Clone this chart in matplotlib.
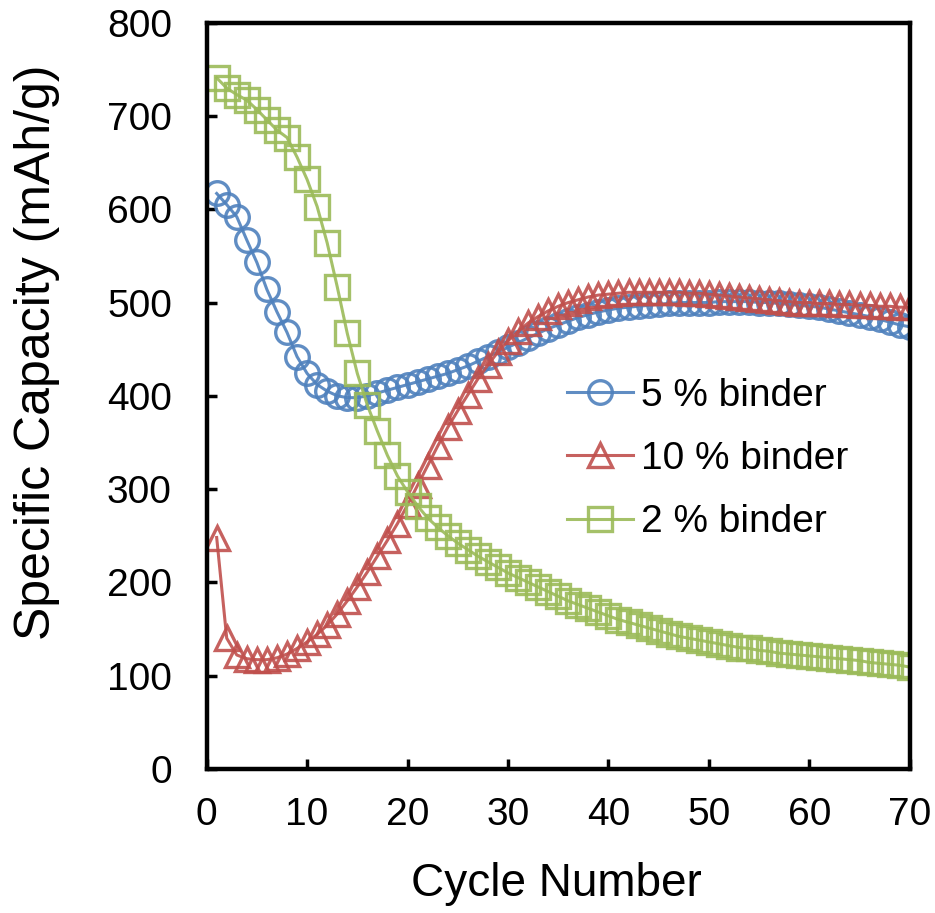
import matplotlib.pyplot as plt

plt.rcParams['font.family'] = ['Liberation Sans', 'DejaVu Sans']

# data
cycles = list(range(1, 71))
binder_5 = [617, 605, 592, 567, 543, 514, 490, 468, 442, 424,
            412, 405, 400, 398, 398, 400, 403, 406, 409, 412,
            415, 418, 421, 424, 428, 432, 437, 442, 447, 452,
            457, 462, 467, 472, 476, 480, 484, 487, 490, 492,
            494, 495, 496, 497, 498, 499, 500, 500, 500, 500,
            501, 501, 501, 501, 500, 500, 499, 498, 497, 496,
            495, 493, 491, 489, 487, 485, 482, 479, 476, 474]
binder_10 = [248, 140, 122, 118, 117, 117, 119, 123, 129, 136,
             144, 154, 166, 180, 195, 211, 228, 245, 263, 283,
             304, 325, 346, 366, 384, 401, 418, 433, 447, 459,
             469, 478, 485, 491, 496, 500, 503, 506, 508, 509,
             510, 511, 511, 511, 511, 511, 511, 510, 510, 509,
             508, 507, 506, 505, 504, 503, 502, 501, 500, 500,
             499, 499, 498, 498, 497, 497, 496, 496, 495, 495]
binder_2 = [741, 730, 723, 717, 707, 696, 685, 677, 656, 632,
            603, 564, 517, 467, 424, 390, 362, 336, 314, 297,
            282, 269, 259, 250, 242, 235, 228, 222, 216, 210,
            205, 200, 195, 190, 185, 180, 176, 172, 168, 164,
            160, 157, 154, 151, 148, 145, 142, 140, 138, 136,
            134, 132, 130, 129, 127, 126, 124, 123, 122, 121,
            120, 119, 118, 117, 116, 114, 113, 112, 111, 109]

x_ticks = [0, 10, 20, 30, 40, 50, 60, 70]
y_ticks = [0, 100, 200, 300, 400, 500, 600, 700, 800]

fig = plt.figure(figsize=(9.35, 9.13), dpi=100)
ax = fig.add_axes([0.221, 0.158, 0.752, 0.817])

style = dict(linewidth=2.2, markersize=17, markeredgewidth=2.4,
             markerfacecolor='none', alpha=0.9)
ax.plot(cycles, binder_5, color='#4F81BD', marker='o', label='5 % binder', **style)
ax.plot(cycles, binder_10, color='#C0504D', marker='^', label='10 % binder', **style)
ax.plot(cycles, binder_2, color='#9BBB59', marker='s', label='2 % binder', **style)

ax.set_xlim(0, 70)
ax.set_ylim(0, 800)
ax.set_xticks(x_ticks)
ax.set_yticks(y_ticks)

for sp in ax.spines.values():
    sp.set_linewidth(3.2)
ax.tick_params(direction='in', length=7, width=2.5, labelsize=28)
ax.tick_params(axis='x', pad=20)
ax.tick_params(axis='y', pad=25)

ax.set_xlabel('Cycle Number', fontsize=33)
ax.set_ylabel('Specific Capacity (mAh/g)', fontsize=36)
ax.xaxis.set_label_coords(0.498, -0.125)
ax.yaxis.set_label_coords(-0.209, 0.559)

ax.legend(loc='upper left', bbox_to_anchor=(0.49, 0.545), frameon=False,
          fontsize=28, numpoints=1, handlelength=1.7, handletextpad=0.2,
          labelspacing=0.7, borderaxespad=0)

plt.savefig('out.png', dpi=100)
